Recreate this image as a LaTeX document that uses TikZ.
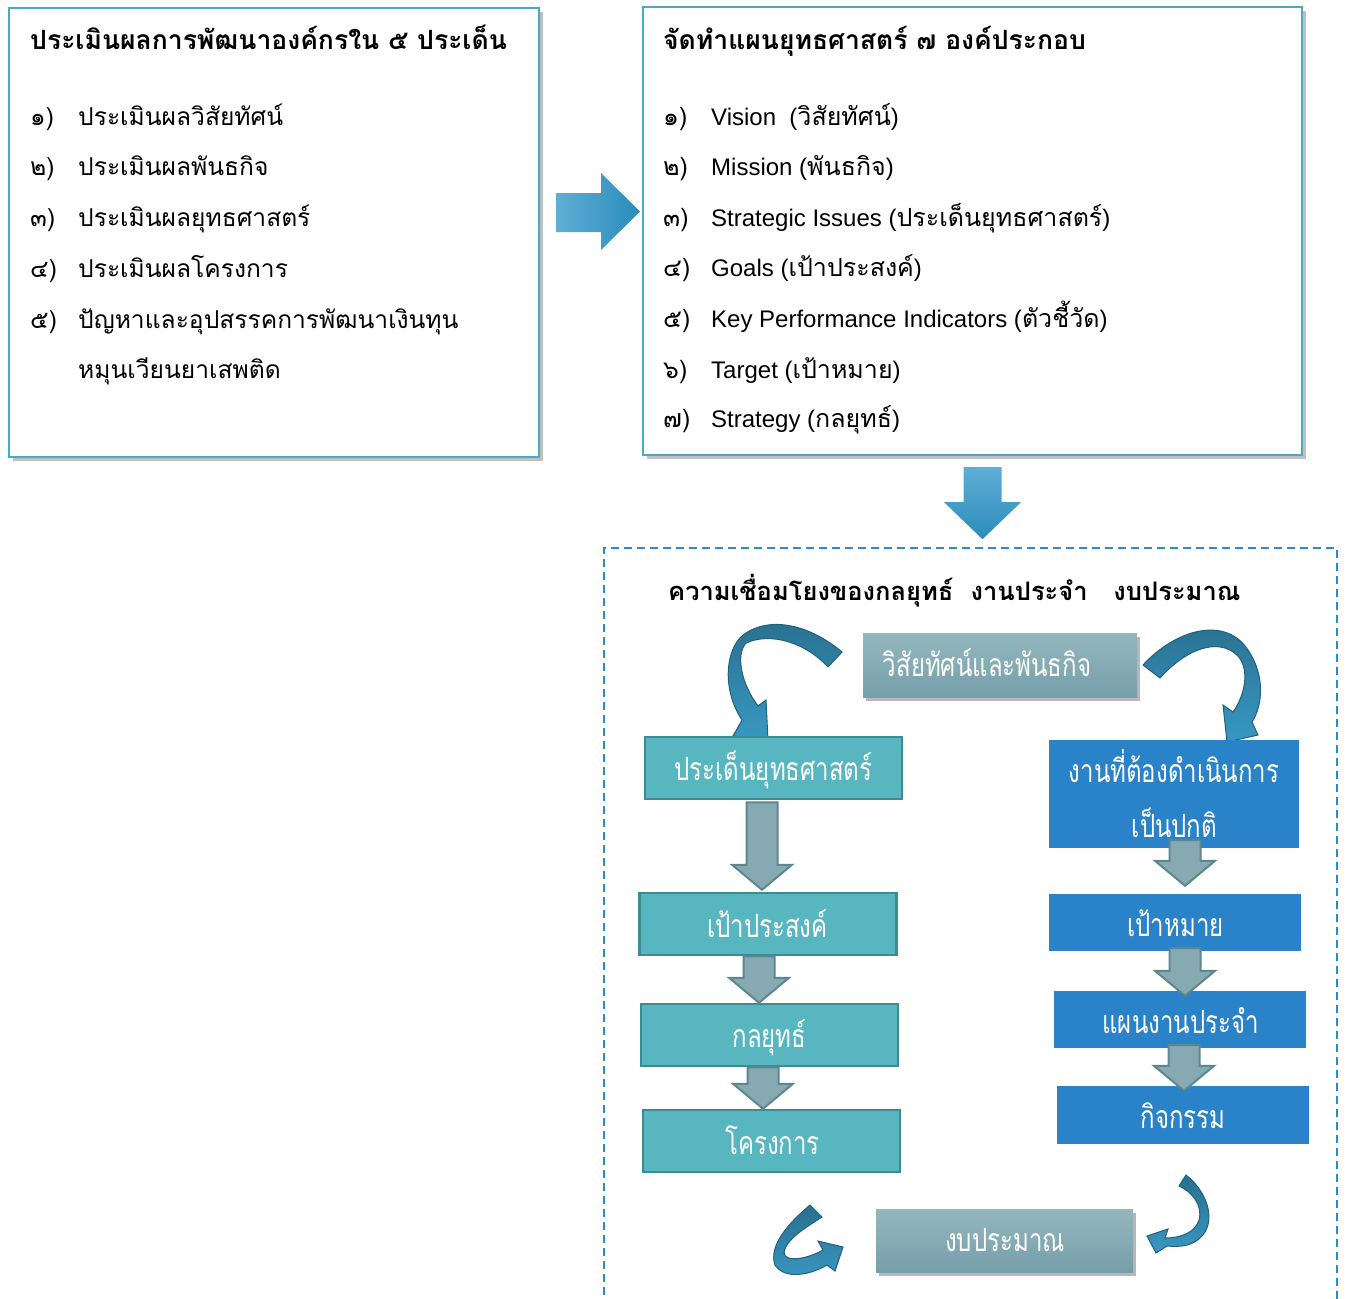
\documentclass[tikz,border=0pt]{standalone}
\usepackage{fontspec}
\usepackage{graphicx}
\setmainfont{Liberation Sans}
\newfontfamily\thai[Script=Thai]{Loma}
\usetikzlibrary{shadows,calc}
\definecolor{boxteal}{HTML}{4AA9C4}
\definecolor{dashblue}{HTML}{2E8BC4}
\definecolor{tealfill}{HTML}{58B6C0}
\definecolor{tealedge}{HTML}{3E8C93}
\definecolor{bluefill}{HTML}{2A82C8}
\definecolor{grayfill}{HTML}{87A9B1}
\definecolor{grayedge}{HTML}{5B878F}
\definecolor{visTop}{HTML}{94B7BE}
\definecolor{visBot}{HTML}{769FAA}
\definecolor{cdark}{HTML}{286F8E}
\definecolor{clight}{HTML}{3898C2}
\definecolor{cedge}{HTML}{22607B}
\definecolor{barLight}{HTML}{5FAED6}
\definecolor{barDark}{HTML}{2A8CBA}
\newcommand\grayarrow[5]{%
  \path[grayarr] let \p1=(#1.south), \p2=(#2.north) in
   ({#3pt-15.5pt},{\y1-(#4pt)}) -- ({#3pt+15.5pt},{\y1-(#4pt)}) -- ({#3pt+15.5pt},{\y2+(#5pt)+25pt})
   -- ({#3pt+30pt},{\y2+(#5pt)+25pt}) -- ({#3pt},{\y2+(#5pt)}) -- ({#3pt-30pt},{\y2+(#5pt)+25pt})
   -- ({#3pt-15.5pt},{\y2+(#5pt)+25pt}) -- cycle;}
\newcommand\thn{\thai\fontsize{25}{29}\selectfont}
\begin{document}
\begin{tikzpicture}[x=1pt,y=-1pt,
  topbox/.style={draw=boxteal, line width=2pt, fill=white, inner sep=0pt,
    drop shadow={shadow xshift=4pt, shadow yshift=-4pt, opacity=0.35, fill=black!70}},
  frame/.style={draw=dashblue, dash pattern=on 8pt off 5pt, line width=1.6pt, inner sep=0pt},
  itemtxt/.style={anchor=base west, inner sep=0pt, font=\thai\fontsize{24.6}{29}\selectfont},
  itemlat/.style={anchor=base west, inner sep=0pt, font=\fontsize{24}{28}\selectfont},
  titletxt/.style={anchor=base west, inner sep=0pt, font=\thai\bfseries\fontsize{26.5}{30}\selectfont},
  tealbox/.style={draw=tealedge, fill=tealfill, line width=2.5pt, inner sep=0pt, minimum width=257pt, minimum height=62pt},
  bluebox/.style={fill=bluefill, inner sep=0pt, minimum width=252pt, minimum height=57pt},
  visbox/.style={top color=visTop, bottom color=visBot, inner sep=0pt,
    drop shadow={shadow xshift=3pt, shadow yshift=-4pt, opacity=0.4, fill=black!70}},
  boxtxt/.style={anchor=base, inner sep=0pt, text=white, font=\thai\fontsize{32}{36}\selectfont},
  grayarr/.style={fill=grayfill, draw=grayedge, line width=2pt, line join=miter},
  curvearr/.style={draw=cedge, line width=1pt, top color=cdark, bottom color=clight},
]
\useasboundingbox[fill=white] (0,0) rectangle (1346,1298);

% dashed frame
\node[frame, minimum width=733pt, minimum height=772pt] (frame) at (970.5,934) {};

% top boxes
\node[topbox, minimum width=530pt, minimum height=449pt] (lbox) at (274,232.5) {};
\node[topbox, minimum width=659pt, minimum height=448pt] (rbox) at (972.5,231) {};

% left box text
\node[titletxt] (ltitle) at (30,50) {ประเมินผลการพัฒนาองค์กรใน ๕ ประเด็น};
\node[itemtxt] (l1) at (30,125) {\makebox[48pt][l]{๑)}ประเมินผลวิสัยทัศน์};
\node[itemtxt] (l2) at (30,175) {\makebox[48pt][l]{๒)}ประเมินผลพันธกิจ};
\node[itemtxt] (l3) at (30,226) {\makebox[48pt][l]{๓)}ประเมินผลยุทธศาสตร์};
\node[itemtxt] (l4) at (30,277) {\makebox[48pt][l]{๔)}ประเมินผลโครงการ};
\node[itemtxt] (l5) at (30,328) {\makebox[48pt][l]{๕)}ปัญหาและอุปสรรคการพัฒนาเงินทุน};
\node[itemtxt] (l6) at (78,378) {หมุนเวียนยาเสพติด};

% right box text
\node[titletxt] (rtitle) at (663,50) {จัดทำแผนยุทธศาสตร์ ๗ องค์ประกอบ};
\node[itemlat] (r1t) at (663,125) {\makebox[48pt][l]{\thn ๑)}Vision\ \ ({\thn วิสัยทัศน์})};
\node[itemlat] (r2t) at (663,175) {\makebox[48pt][l]{\thn ๒)}Mission ({\thn พันธกิจ})};
\node[itemlat] (r3t) at (663,226) {\makebox[48pt][l]{\thn ๓)}Strategic Issues ({\thn ประเด็นยุทธศาสตร์})};
\node[itemlat] (r4t) at (663,276) {\makebox[48pt][l]{\thn ๔)}Goals ({\thn เป้าประสงค์})};
\node[itemlat] (r5t) at (663,327) {\makebox[48pt][l]{\thn ๕)}Key Performance Indicators ({\thn ตัวชี้วัด})};
\node[itemlat] (r6t) at (663,378) {\makebox[48pt][l]{\thn ๖)}Target ({\thn เป้าหมาย})};
\node[itemlat] (r7t) at (663,427) {\makebox[48pt][l]{\thn ๗)}Strategy ({\thn กลยุทธ์})};

% block arrow right
\path[left color=barLight, right color=barDark] let \p1=(lbox.east), \p2=(rbox.west) in
  ({\x1+16pt},-193pt) -- ({\x2-41pt},-193pt) -- ({\x2-41pt},-173pt) -- ({\x2-2pt},-211.5pt)
  -- ({\x2-41pt},-250pt) -- ({\x2-41pt},-232pt) -- ({\x1+16pt},-232pt) -- cycle;
% block arrow down
\path[top color=barLight, bottom color=barDark] let \p1=(rbox.south), \p2=(frame.north) in
  (963.5pt,{\y1-11pt}) -- (1001.5pt,{\y1-11pt}) -- (1001.5pt,{\y2+45pt}) -- (1021pt,{\y2+45pt})
  -- (982.5pt,{\y2+8pt}) -- (944pt,{\y2+45pt}) -- (963.5pt,{\y2+45pt}) -- cycle;

% frame title
\node[titletxt, font=\thai\bfseries\fontsize{25.5}{30}\selectfont] (ftitle) at (668,600) {ความเชื่อมโยงของกลยุทธ์\ \ งานประจำ\ \ \ งบประมาณ};

% curved arrows
\path[curvearr] (842,652) .. controls (810,625) and (770,615) .. (743,635)
  .. controls (725,650) and (722,690) .. (742,720) -- (733,736) -- (768,740) -- (766,700)
  -- (758,706) .. controls (742,685) and (735,655) .. (746,643)
  .. controls (770,632) and (805,642) .. (828,667) -- cycle;
\path[curvearr] (1143,665) .. controls (1175,630) and (1225,615) .. (1248,650)
  .. controls (1265,675) and (1263,705) .. (1252,722) -- (1258,735) -- (1227,742) -- (1223,705)
  -- (1233,712) .. controls (1245,695) and (1250,670) .. (1238,656)
  .. controls (1218,636) and (1185,650) .. (1160,678) -- cycle;
\path[curvearr] (810,1205) .. controls (790,1222) and (768,1245) .. (775,1265)
  .. controls (785,1280) and (810,1275) .. (827,1265) -- (835,1271) -- (843,1247) -- (818,1241)
  -- (823,1250) .. controls (805,1260) and (785,1262) .. (784,1253)
  .. controls (785,1240) and (805,1228) .. (822,1217) -- cycle;
\path[curvearr] (1186,1175) .. controls (1205,1190) and (1215,1215) .. (1205,1232)
  .. controls (1195,1247) and (1180,1247) .. (1167,1246) -- (1156,1253) -- (1147,1236) -- (1168,1229)
  -- (1165,1238) .. controls (1180,1238) and (1195,1233) .. (1199,1220)
  .. controls (1203,1205) and (1192,1192) .. (1179,1186) -- cycle;

% lower boxes
\node[visbox, minimum width=274pt, minimum height=64pt] (vis) at (1000,665) {};
\node[tealbox] (s1) at (773.5,768) {};
\node[tealbox] (s2) at (768,924) {};
\node[tealbox] (s3) at (769.5,1035) {};
\node[tealbox] (s4) at (771.5,1141) {};
\node[bluebox, minimum width=250pt, minimum height=108pt] (q1) at (1174,794) {};
\node[bluebox] (q2) at (1175,922.5) {};
\node[bluebox] (q3) at (1180,1019.5) {};
\node[bluebox, minimum height=58pt] (q4) at (1183,1115) {};
\node[visbox, minimum width=257pt, minimum height=63pt] (bud) at (1004.5,1240.5) {};

% box texts
\node[boxtxt] (vist) at (987,676) {\scalebox{0.75}[1]{วิสัยทัศน์และพันธกิจ}};
\node[boxtxt] (s1t) at (773.5,780) {\scalebox{0.75}[1]{ประเด็นยุทธศาสตร์}};
\node[boxtxt] (s2t) at (767.5,937) {\scalebox{0.75}[1]{เป้าประสงค์}};
\node[boxtxt] (s3t) at (769.5,1047) {\scalebox{0.75}[1]{กลยุทธ์}};
\node[boxtxt] (s4t) at (772.5,1154) {\scalebox{0.75}[1]{โครงการ}};
\node[boxtxt] (q1t) at (1174,782) {\scalebox{0.75}[1]{งานที่ต้องดำเนินการ}};
\node[boxtxt] (q1u) at (1174.5,837) {\scalebox{0.75}[1]{เป็นปกติ}};
\node[boxtxt] (q2t) at (1175.5,936) {\scalebox{0.75}[1]{เป้าหมาย}};
\node[boxtxt] (q3t) at (1180.5,1033) {\scalebox{0.75}[1]{แผนงานประจำ}};
\node[boxtxt] (q4t) at (1183,1128) {\scalebox{0.75}[1]{กิจกรรม}};
\node[boxtxt] (budt) at (1005,1251) {\scalebox{0.75}[1]{งบประมาณ}};

% gray arrows
\grayarrow{s1}{s2}{762}{2}{2}
\grayarrow{s2}{s3}{759}{0}{0}
\grayarrow{s3}{s4}{763}{0}{0}
\grayarrow{q1}{q2}{1185}{-8}{8}
\grayarrow{q2}{q3}{1185}{-3}{-5}
\grayarrow{q3}{q4}{1184}{-3}{-5}
\end{tikzpicture}
\end{document}
